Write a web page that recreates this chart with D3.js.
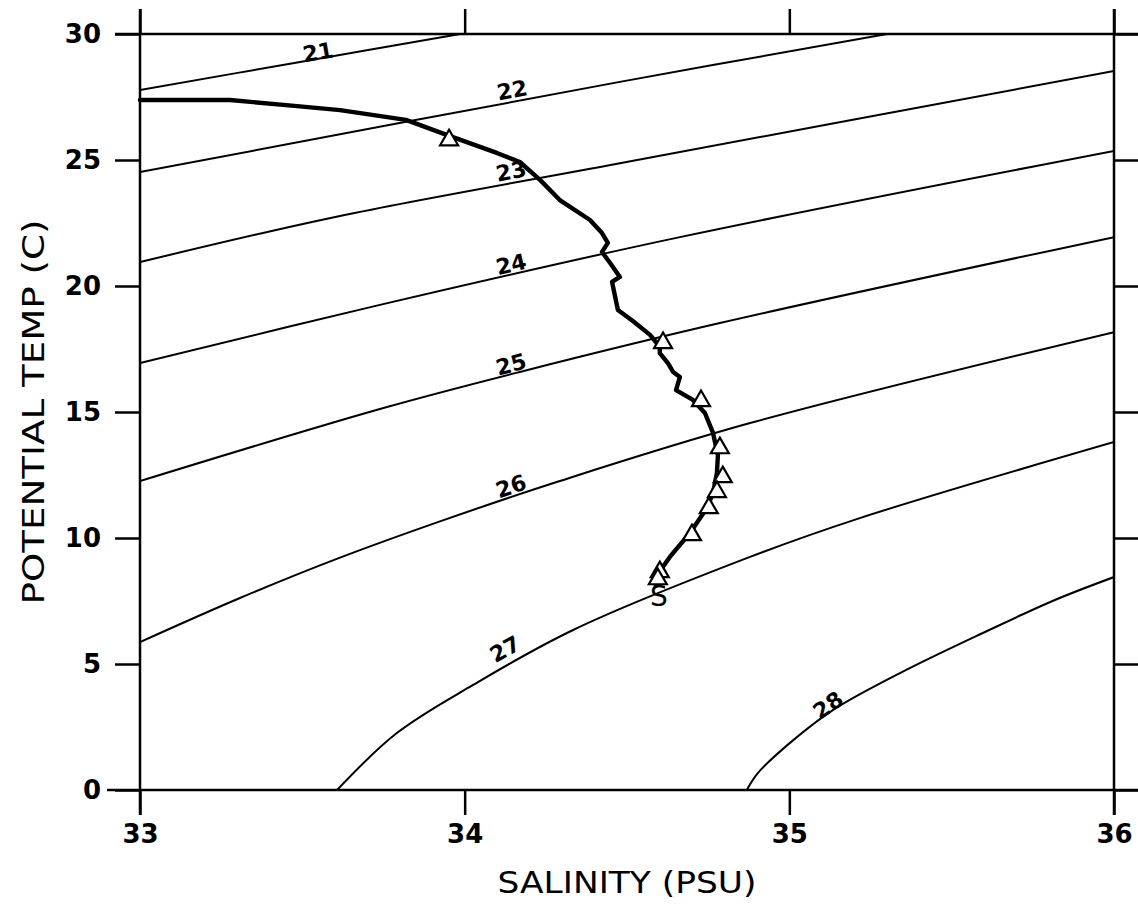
<!DOCTYPE html>
<html><head><meta charset="utf-8">
<script src="https://cdn.jsdelivr.net/npm/d3@7"></script>
<style>body{margin:0;background:#fff} svg{display:block}</style>
</head><body>
<svg id="c" width="1138" height="909"></svg>
<script>
// ---- data ----
const salinityTicks = [33, 34, 35, 36];
const tempTicks = [0, 5, 10, 15, 20, 25, 30];
const sigmaLevels = [21, 22, 23, 24, 25, 26, 27, 28];

// sigma-theta isolines as [salinity, potential temperature] pairs
const sigma21 = [[33.000,27.78],[33.493,28.89],[33.986,30.00]];
const sigma22 = [[33.000,24.52],[34.478,28.10],[35.301,30.00]];
const sigma23 = [[33.000,20.95],[33.616,22.78],[34.478,24.87],[36.000,28.53]];
const sigma24 = [[33.000,16.94],[33.739,19.25],[34.663,21.94],[36.000,25.36]];
const sigma25 = [[33.000,12.26],[33.739,15.12],[34.170,16.59],[34.786,18.53],[36.000,21.94]];
const sigma26 = [[33.000,5.87],[33.308,7.62],[33.616,9.22],[33.924,10.66],[34.293,12.26],[34.879,14.56],[36.000,18.17]];
const sigma27 = [[33.607,0.00],[33.791,2.26],[34.026,4.17],[34.334,6.35],[34.879,9.25],[35.217,10.79],[36.000,13.81]];
const sigma28 = [[34.869,0.00],[34.903,0.67],[35.002,1.87],[35.134,3.17],[35.341,4.64],[35.596,6.23],[35.818,7.54],[36.000,8.45]];

// contour label centres (salinity, temperature)
const labelS = [33.548, 34.146, 34.143, 34.143, 34.143, 34.143, 34.124, 35.119];
const labelT = [29.29, 27.78, 24.56, 20.87, 16.90, 12.06, 5.60, 3.37];

// T-S profile
const profileS = [33.000,33.277,33.484,33.616,33.819,33.955,34.099,34.170,34.232,34.293,34.386,34.423,34.441,34.423,34.448,34.478,34.454,34.472,34.518,34.571,34.601,34.601,34.626,34.642,34.663,34.651,34.703,34.740,34.765,34.771,34.780,34.777,34.765,34.746,34.694,34.632,34.608,34.592,34.608,34.589];
const profileT = [27.38,27.38,27.14,26.98,26.59,25.95,25.28,24.92,24.21,23.41,22.62,22.10,21.71,21.35,20.91,20.36,20.16,19.05,18.61,18.06,17.58,17.34,16.94,16.59,16.39,15.87,15.48,14.96,14.17,13.81,13.29,12.58,11.79,11.19,10.20,9.25,8.81,8.49,8.29,8.10];

// triangle markers
const markerS = [33.952, 34.611, 34.728, 34.786, 34.795, 34.777, 34.752, 34.700, 34.601, 34.595];
const markerT = [25.79, 17.74, 15.44, 13.57, 12.42, 11.83, 11.19, 10.12, 8.65, 8.37];

const endLabelText = "S";
const endLabelS = 34.598, endLabelT = 7.72;

const xTitle = "SALINITY (PSU)";
const yTitle = "POTENTIAL TEMP (C)";

// ---- drawing ----
const contours = [sigma21, sigma22, sigma23, sigma24, sigma25, sigma26, sigma27, sigma28];
const svg = d3.select("#c");
const x = d3.scaleLinear().domain([33, 36]).range([140, 1114]);
const y = d3.scaleLinear().domain([0, 30]).range([790, 34]);
const TK = 25;

svg.append("clipPath").attr("id", "clip").append("rect")
  .attr("x", x(33)).attr("y", y(30)).attr("width", x(36) - x(33)).attr("height", y(0) - y(30));

const line = d3.line().x(d => x(d[0])).y(d => y(d[1])).curve(d3.curveCatmullRom.alpha(0.5));

const plot = svg.append("g").attr("clip-path", "url(#clip)");
plot.selectAll("path.contour").data(contours).join("path")
  .attr("class", "contour")
  .attr("d", line)
  .attr("fill", "none").attr("stroke", "#000").attr("stroke-width", 2);

// contour labels
function tAt(c, s) {
  for (let i = 0; i < c.length - 1; i++) {
    if (s >= c[i][0] && s <= c[i + 1][0]) {
      const f = (s - c[i][0]) / (c[i + 1][0] - c[i][0]);
      return c[i][1] + f * (c[i + 1][1] - c[i][1]);
    }
  }
  return c[c.length - 1][1];
}
sigmaLevels.forEach((lvl, i) => {
  const c = contours[i], s = labelS[i];
  const s0 = Math.max(c[0][0], s - 0.05), s1 = Math.min(c[c.length - 1][0], s + 0.05);
  const ang = Math.atan2(y(tAt(c, s1)) - y(tAt(c, s0)), x(s1) - x(s0)) * 180 / Math.PI;
  svg.append("text")
    .attr("transform", `translate(${x(s)},${y(labelT[i])}) rotate(${ang})`)
    .attr("text-anchor", "middle").attr("dy", "0.36em")
    .attr("font-family", "DejaVu Sans, sans-serif").attr("font-weight", "bold")
    .attr("font-size", 22).text(lvl);
});

// profile
const prof = profileS.map((s, i) => [s, profileT[i]]);
svg.append("path").datum(prof)
  .attr("d", d3.line().x(d => x(d[0])).y(d => y(d[1])))
  .attr("fill", "none").attr("stroke", "#000").attr("stroke-width", 4.4)
  .attr("stroke-linejoin", "round").attr("stroke-linecap", "round");

const tri = d3.symbol().type(d3.symbolTriangle).size(140);
svg.selectAll("path.mk").data(markerS.map((s, i) => [s, markerT[i]])).join("path")
  .attr("class", "mk")
  .attr("transform", d => `translate(${x(d[0])},${y(d[1])})`)
  .attr("d", tri).attr("fill", "#fff").attr("stroke", "#000").attr("stroke-width", 2.2);

svg.append("text").attr("x", x(endLabelS)).attr("y", y(endLabelT))
  .attr("text-anchor", "middle").attr("dy", "0.36em")
  .attr("font-family", "DejaVu Sans, sans-serif").attr("font-size", 28).text(endLabelText);

// axes
const tickFont = g => g.selectAll("text")
  .attr("font-family", "DejaVu Sans, sans-serif").attr("font-weight", "bold")
  .attr("font-size", 26).attr("fill", "#000");
const styleAxis = g => { g.select(".domain").remove();
  g.selectAll("line").attr("stroke", "#000").attr("stroke-width", 2.5); };

svg.append("g").attr("transform", `translate(0,${y(0)})`)
  .call(d3.axisBottom(x).tickValues(salinityTicks).tickSize(TK).tickPadding(10).tickFormat(d3.format("d")))
  .call(styleAxis).call(tickFont);
svg.append("g").attr("transform", `translate(0,${y(30)})`)
  .call(d3.axisTop(x).tickValues(salinityTicks).tickSize(TK).tickFormat(""))
  .call(styleAxis);
svg.append("g").attr("transform", `translate(${x(33)},0)`)
  .call(d3.axisLeft(y).tickValues(tempTicks).tickSize(TK).tickPadding(14).tickFormat(d3.format("d")))
  .call(styleAxis).call(tickFont);
svg.append("g").attr("transform", `translate(${x(36)},0)`)
  .call(d3.axisRight(y).tickValues(tempTicks).tickSize(TK).tickFormat(""))
  .call(styleAxis);

// frame
const frame = svg.append("g").attr("stroke", "#000").attr("stroke-width", 2.5);
frame.append("line").attr("x1", x(33) - TK).attr("x2", x(36) + TK).attr("y1", y(30)).attr("y2", y(30));
frame.append("line").attr("x1", x(33) - TK - 8).attr("x2", x(36) + TK).attr("y1", y(0)).attr("y2", y(0));
frame.append("line").attr("x1", x(33)).attr("x2", x(33)).attr("y1", y(30) - TK).attr("y2", y(0) + TK);
frame.append("line").attr("x1", x(36)).attr("x2", x(36)).attr("y1", y(30) - TK).attr("y2", y(0) + TK);

// titles
svg.append("text").attr("x", (x(33) + x(36)) / 2).attr("y", 882)
  .attr("text-anchor", "middle").attr("dy", "0.36em")
  .attr("font-family", "DejaVu Sans, sans-serif").attr("font-size", 30)
  .attr("textLength", 259).attr("lengthAdjust", "spacingAndGlyphs").text(xTitle);
svg.append("text").attr("transform", `translate(33,${(y(0) + y(30)) / 2}) rotate(-90)`)
  .attr("text-anchor", "middle").attr("dy", "0.36em")
  .attr("font-family", "DejaVu Sans, sans-serif").attr("font-size", 30)
  .attr("textLength", 385).attr("lengthAdjust", "spacingAndGlyphs").text(yTitle);
</script>
</body></html>
